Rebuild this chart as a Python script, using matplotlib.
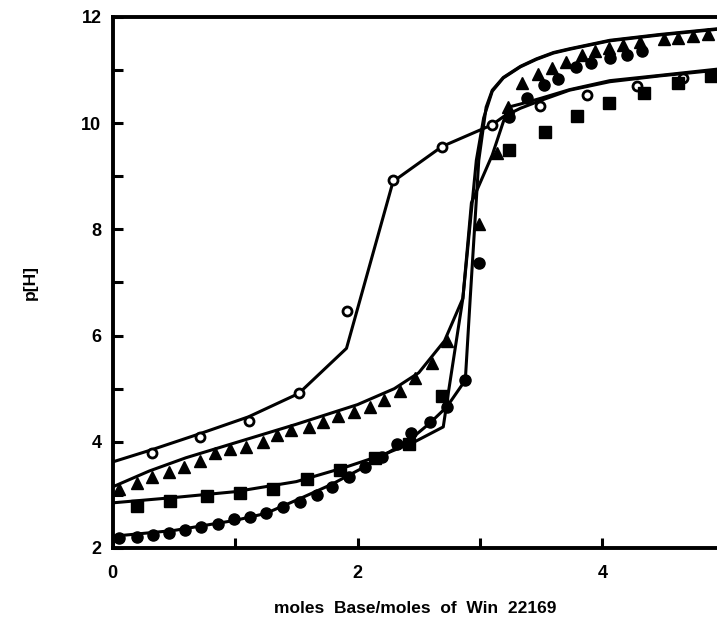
import matplotlib
matplotlib.use("Agg")
import matplotlib.pyplot as plt

plt.rcParams['font.family'] = ['Liberation Sans', 'DejaVu Sans']
plt.rcParams['font.weight'] = 'bold'

# ---- data ----
open_x = [0.32, 0.71, 1.11, 1.52, 1.91, 2.29, 2.69, 3.10, 3.49, 3.87, 4.28, 4.66]
open_y = [3.78, 4.09, 4.40, 4.91, 6.46, 8.93, 9.56, 9.96, 10.32, 10.53, 10.70, 10.85]

tri_x = [0.05, 0.20, 0.32, 0.46, 0.58, 0.71, 0.84, 0.96, 1.09, 1.23, 1.34, 1.46, 1.60, 1.72,
         1.84, 1.97, 2.10, 2.22, 2.35, 2.47, 2.61, 2.73, 2.99, 3.14, 3.23, 3.34, 3.47, 3.59,
         3.70, 3.83, 3.94, 4.05, 4.17, 4.31, 4.50, 4.62, 4.74, 4.86]
tri_y = [3.11, 3.22, 3.33, 3.44, 3.53, 3.63, 3.78, 3.86, 3.91, 4.00, 4.13, 4.22, 4.28, 4.38,
         4.49, 4.57, 4.66, 4.79, 4.96, 5.20, 5.48, 5.89, 8.11, 9.43, 10.30, 10.75, 10.92, 11.03,
         11.15, 11.28, 11.35, 11.41, 11.47, 11.53, 11.58, 11.60, 11.64, 11.68]

sq_x = [0.20, 0.47, 0.77, 1.04, 1.31, 1.59, 1.86, 2.14, 2.42, 2.69, 3.24, 3.53, 3.79, 4.05,
        4.34, 4.62, 4.89]
sq_y = [2.79, 2.89, 2.97, 3.04, 3.12, 3.30, 3.47, 3.69, 3.95, 4.87, 9.49, 9.84, 10.14, 10.38,
        10.57, 10.76, 10.89]

dot_x = [0.05, 0.20, 0.33, 0.46, 0.59, 0.72, 0.86, 0.99, 1.12, 1.25, 1.39, 1.53, 1.67, 1.79,
         1.93, 2.06, 2.20, 2.32, 2.44, 2.59, 2.73, 2.88, 2.99, 3.24, 3.38, 3.52, 3.64, 3.78,
         3.91, 4.06, 4.20, 4.32]
dot_y = [2.18, 2.21, 2.24, 2.29, 2.33, 2.40, 2.45, 2.55, 2.59, 2.65, 2.78, 2.86, 3.00, 3.15,
         3.34, 3.53, 3.72, 3.96, 4.16, 4.38, 4.66, 5.16, 7.36, 10.12, 10.47, 10.72, 10.83, 11.06,
         11.13, 11.22, 11.28, 11.35]

# fitted curves
fitO_x = [0.0, 0.32, 0.71, 1.11, 1.52, 1.91, 2.29, 2.69, 3.10, 3.19, 3.33, 3.50, 3.73, 4.06, 4.47, 4.95]
fitO_y = [3.62, 3.85, 4.15, 4.47, 4.91, 5.76, 8.90, 9.56, 9.97, 10.12, 10.28, 10.43, 10.62, 10.78, 10.89, 11.00]

fitT_x = [0.0, 0.3, 0.6, 1.0, 1.5, 2.0, 2.3, 2.5, 2.71, 2.86, 2.93, 3.10, 3.23, 3.33, 3.50, 3.73, 4.06, 4.47, 4.95]
fitT_y = [3.15, 3.45, 3.70, 3.98, 4.33, 4.70, 5.00, 5.30, 5.90, 6.70, 8.50, 9.40, 10.30, 10.36, 10.47, 10.63, 10.80, 10.90, 11.02]

fitS_x = [0.0, 0.5, 1.0, 1.5, 1.9, 2.2, 2.45, 2.70, 2.74, 2.86, 2.97, 3.03, 3.10, 3.19, 3.33, 3.46,
          3.60, 3.73, 4.06, 4.47, 4.95]
fitS_y = [2.85, 2.95, 3.06, 3.25, 3.52, 3.75, 3.98, 4.28, 4.90, 6.70, 9.30, 10.10, 10.60, 10.85,
          11.06, 11.20, 11.32, 11.39, 11.55, 11.66, 11.77]

fitC_x = [0.0, 0.5, 1.0, 1.25, 1.53, 1.79, 2.06, 2.29, 2.47, 2.59, 2.73, 2.88, 2.92, 2.99, 3.05,
          3.10, 3.19, 3.33, 3.46, 3.60, 3.73, 4.06, 4.47, 4.95]
fitC_y = [2.22, 2.33, 2.52, 2.65, 2.93, 3.20, 3.53, 3.85, 4.12, 4.35, 4.66, 5.16, 6.70, 9.30, 10.30,
          10.62, 10.86, 11.07, 11.21, 11.33, 11.40, 11.56, 11.67, 11.78]

# ---- figure ----
fig = plt.figure(figsize=(7.17, 6.27), dpi=100)
ax = fig.add_axes([0.157, 0.126, 0.843, 0.847])

lw = 2.2
for fx, fy in [(fitO_x, fitO_y), (fitT_x, fitT_y), (fitS_x, fitS_y), (fitC_x, fitC_y)]:
    ax.plot(fx, fy, color='black', lw=lw, solid_joinstyle='round', zorder=2)

ax.plot(open_x, open_y, 'o', ms=6.5, mfc='white', mec='black', mew=2.0, zorder=3)
ax.plot(tri_x, tri_y, '^', ms=8.5, color='black', zorder=3)
ax.plot(sq_x, sq_y, 's', ms=8, color='black', zorder=3)
ax.plot(dot_x, dot_y, 'o', ms=8, color='black', zorder=3)

ax.set_xlim(0, 4.935)
ax.set_ylim(2, 12)

ax.spines['right'].set_visible(False)
for s in ['left', 'bottom', 'top']:
    ax.spines[s].set_linewidth(2.8)

ax.set_xticks([0, 1, 2, 3, 4])
ax.set_xticklabels(['0', '', '2', '', '4'])
ax.set_yticks([2, 3, 4, 5, 6, 7, 8, 9, 10, 11, 12])
ax.set_yticklabels(['2', '', '4', '', '6', '', '8', '', '10', '', '12'])
ax.tick_params(axis='both', direction='in', length=7, width=2.2, labelsize=13, pad=8)
ax.tick_params(axis='x', pad=12)
for lab in ax.get_xticklabels() + ax.get_yticklabels():
    lab.set_fontweight('bold')

ax.set_xlabel('moles  Base/moles  of  Win  22169', fontsize=12.5, fontweight='bold', labelpad=14)
ax.set_ylabel('p[H]', fontsize=12.5, fontweight='bold', labelpad=31)

fig.savefig('out.png', dpi=100)
